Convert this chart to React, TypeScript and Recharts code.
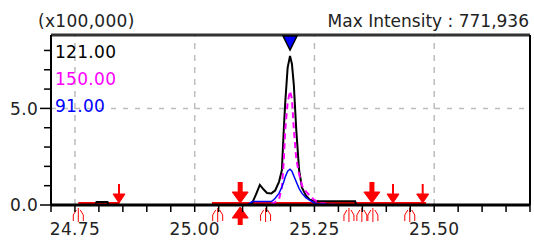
import {
  ComposedChart,
  Line,
  XAxis,
  YAxis,
  ReferenceLine,
  ReferenceDot,
} from "recharts";

// retention time (min)
const times = [
  24.7, 24.793, 24.795, 24.818, 24.82, 25.11, 25.12, 25.128, 25.136, 25.144,
  25.151, 25.16, 25.164, 25.168, 25.176, 25.182, 25.186, 25.189, 25.194,
  25.199, 25.203, 25.207, 25.212, 25.218, 25.224, 25.232, 25.24, 25.248,
  25.26, 25.3, 25.335, 25.337, 25.7,
];

// intensities in x100,000
const mz121 = [
  0, 0, 0.15, 0.15, 0, 0, 0.1, 0.55, 1.04, 0.8, 0.62, 0.6, 0.68, 0.75, 1.2,
  1.8, 3.9, 5.3, 7.1, 7.72, 7.3, 6.2, 3.9, 1.8, 0.9, 0.5, 0.28, 0.22, 0.2, 0.2,
  0.2, 0, 0,
];
const mz150 = [
  0, 0, 0, 0, 0, 0, 0, 0, 0, 0, 0, 0.05, 0.1, 0.15, 0.3, 0.9, 2.3, 3.9, 5.3,
  5.9, 5.5, 3.9, 2.4, 1.6, 1.0, 0.7, 0.5, 0.3, 0.1, 0, 0, 0, 0,
];
const mz91 = [
  0, 0, 0, 0, 0, 0, 0.18, 0.18, 0.18, 0.18, 0.18, 0.18, 0.25, 0.35, 0.6, 0.93,
  1.2, 1.45, 1.75, 1.85, 1.75, 1.5, 1.2, 0.85, 0.6, 0.38, 0.25, 0.12, 0.05, 0,
  0, 0, 0,
];

const series = [
  { key: "mz121", label: "121.00", color: "#000000" },
  { key: "mz150", label: "150.00", color: "#ff00ff" },
  { key: "mz91", label: "91.00", color: "#0000ff" },
];

const xTicks = [
  24.7, 24.75, 24.8, 24.85, 24.9, 24.95, 25.0, 25.05, 25.1, 25.15, 25.2,
  25.25, 25.3, 25.35, 25.4, 25.45, 25.5, 25.55, 25.6, 25.65, 25.7,
];
const xLabelled = [24.75, 25.0, 25.25, 25.5];
const yTicks = [0, 1, 2, 3, 4, 5, 6, 7, 8];
const yLabelled = [0, 5];
const xGrid = [24.75, 25.0, 25.25, 25.5];
const yGrid = [5];

// peak integration marks
const baselines = [
  [24.757, 24.843],
  [25.036, 25.483],
];
const thinDown = [24.842, 25.414, 25.476];
const boldDown = [25.095, 25.37];
const boldUp = [25.095];
const startMarks = [24.757, 25.048, 25.148, 25.322, 25.349, 25.372, 25.449];
const apex = 25.199;

const X_MIN = 24.7;
const X_MAX = 25.7;
const Y_MAX = 8.8;
const FONT = "'DejaVu Sans', sans-serif";

const data = times.map((t, i) => ({
  t,
  mz121: mz121[i],
  mz150: mz150[i],
  mz91: mz91[i],
}));

const XTick = ({ x, y, payload }: any) => {
  const v = payload.value;
  const show = xLabelled.some((l) => Math.abs(l - v) < 1e-6);
  return (
    <g>
      <line x1={x} x2={x} y1={y} y2={y + 7} stroke="#000" strokeWidth={1.5} />
      {show && (
        <text
          x={x}
          y={y + 30}
          textAnchor="middle"
          fontFamily={FONT}
          fontSize={17}
          letterSpacing={0.3}
          fill="#222"
        >
          {v.toFixed(2)}
        </text>
      )}
    </g>
  );
};

const YTick = ({ x, y, payload }: any) => {
  const v = payload.value;
  const major = yLabelled.includes(v);
  const len = major ? 11 : 7;
  return (
    <g>
      <line x1={x} x2={x - len} y1={y} y2={y} stroke="#000" strokeWidth={1.5} />
      {major && (
        <text
          x={x - 13}
          y={y}
          dy="0.36em"
          textAnchor="end"
          fontFamily={FONT}
          fontSize={17}
          letterSpacing={0.3}
          fill="#222"
        >
          {v.toFixed(1)}
        </text>
      )}
    </g>
  );
};

const ThinDown = ({ cx, cy }: any) => (
  <g fill="#ff0000" stroke="#ff0000">
    <line x1={cx} x2={cx} y1={cy - 21} y2={cy - 9} strokeWidth={2} />
    <polygon
      points={`${cx - 6},${cy - 11} ${cx + 6},${cy - 11} ${cx},${cy - 2}`}
      strokeWidth={1}
    />
  </g>
);

const BoldDown = ({ cx, cy }: any) => (
  <g fill="#ff0000" stroke="#ff0000">
    <line x1={cx} x2={cx} y1={cy - 23} y2={cy - 10} strokeWidth={5} />
    <polygon
      points={`${cx - 8},${cy - 13} ${cx + 8},${cy - 13} ${cx},${cy - 2}`}
      strokeWidth={1}
    />
  </g>
);

const BoldUp = ({ cx, cy }: any) => (
  <g fill="#ff0000" stroke="#ff0000">
    <line x1={cx} x2={cx} y1={cy + 10} y2={cy + 20} strokeWidth={5} />
    <polygon
      points={`${cx - 8},${cy + 13} ${cx + 8},${cy + 13} ${cx},${cy + 2}`}
      strokeWidth={1}
    />
  </g>
);

const StartMark = ({ cx, cy }: any) => (
  <g fill="none" stroke="#ff0000" strokeWidth={1}>
    <line x1={cx} x2={cx} y1={cy + 3} y2={cy + 17} />
    <polyline points={`${cx - 2},${cy + 5} ${cx - 5},${cy + 10} ${cx - 5},${cy + 16}`} />
    <polyline points={`${cx + 2},${cy + 5} ${cx + 5},${cy + 10} ${cx + 5},${cy + 16}`} />
  </g>
);

const ApexMark = ({ cx, cy }: any) => (
  <polygon
    points={`${cx - 7},${cy + 1} ${cx + 7},${cy + 1} ${cx},${cy + 15}`}
    fill="#0000ff"
    stroke="#000"
    strokeWidth={1.5}
  />
);

const App = () => {
  return (
    <div
      style={{
        position: "absolute",
        left: 0,
        top: 0,
        width: 534,
        height: 248,
        background: "#fff",
      }}
    >
      <ComposedChart
        width={534}
        height={248}
        data={data}
        margin={{ top: 35, right: 4, left: 0, bottom: 0 }}
      >
        <XAxis
          dataKey="t"
          type="number"
          domain={[X_MIN, X_MAX]}
          ticks={xTicks}
          interval={0}
          tick={<XTick />}
          tickSize={0}
          tickMargin={0}
          tickLine={false}
          height={43}
          axisLine={{ stroke: "#000", strokeWidth: 3 }}
        />
        <YAxis
          type="number"
          domain={[0, Y_MAX]}
          ticks={yTicks}
          interval={0}
          tick={<YTick />}
          tickSize={0}
          tickMargin={0}
          tickLine={false}
          width={51}
          axisLine={{ stroke: "#000", strokeWidth: 2 }}
        />
        {xGrid.map((v) => (
          <ReferenceLine
            key={`gx-${v}`}
            x={v}
            stroke="#bdbdbd"
            strokeWidth={1.5}
            strokeDasharray="6 6"
          />
        ))}
        {yGrid.map((v) => (
          <ReferenceLine
            key={`gy-${v}`}
            y={v}
            stroke="#bdbdbd"
            strokeWidth={1.5}
            strokeDasharray="5 7"
          />
        ))}
        <ReferenceLine y={Y_MAX} stroke="#333" strokeWidth={3} />
        <ReferenceLine x={X_MAX} stroke="#000" strokeWidth={2} />
        {baselines.map(([a, b]) => (
          <ReferenceLine
            key={`bl-${a}`}
            segment={[
              { x: a, y: 0.1 },
              { x: b, y: 0.1 },
            ]}
            stroke="#ff0000"
            strokeWidth={2}
          />
        ))}
        <Line
          dataKey="mz121"
          type="linear"
          stroke="#000"
          strokeWidth={2}
          dot={false}
          isAnimationActive={false}
        />
        <Line
          dataKey="mz150"
          type="linear"
          stroke="#ff00ff"
          strokeWidth={2}
          strokeDasharray="6 4"
          dot={false}
          isAnimationActive={false}
        />
        <Line
          dataKey="mz91"
          type="linear"
          stroke="#0000ff"
          strokeWidth={1.5}
          dot={false}
          isAnimationActive={false}
        />
        {thinDown.map((t) => (
          <ReferenceDot key={`td-${t}`} x={t} y={0} shape={<ThinDown />} />
        ))}
        {boldDown.map((t) => (
          <ReferenceDot key={`bd-${t}`} x={t} y={0} shape={<BoldDown />} />
        ))}
        {boldUp.map((t) => (
          <ReferenceDot key={`bu-${t}`} x={t} y={0} shape={<BoldUp />} />
        ))}
        {startMarks.map((t) => (
          <ReferenceDot key={`sm-${t}`} x={t} y={0} shape={<StartMark />} />
        ))}
        <ReferenceDot x={apex} y={Y_MAX} shape={<ApexMark />} />
      </ComposedChart>
      <svg
        width={534}
        height={248}
        style={{ position: "absolute", left: 0, top: 0, pointerEvents: "none" }}
        fontFamily={FONT}
        fontSize={17}
        letterSpacing={0.3}
      >
        <text x={38} y={27} fill="#222">
          (x100,000)
        </text>
        <text x={529} y={27} textAnchor="end" fill="#222" letterSpacing={0}>
          Max Intensity : 771,936
        </text>
        {series.map((s, i) => (
          <text key={s.key} x={55} y={58 + i * 27} fill={s.color}>
            {s.label}
          </text>
        ))}
      </svg>
    </div>
  );
};

export default App;
